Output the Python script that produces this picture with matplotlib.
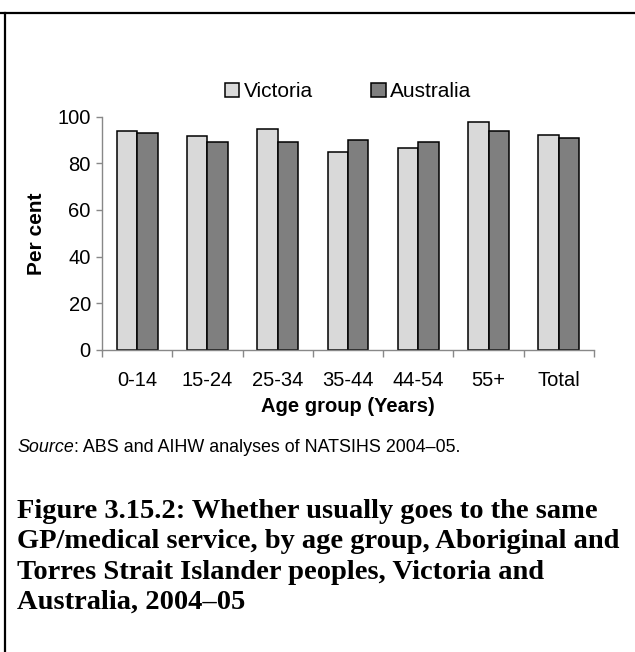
import numpy as np
import matplotlib
matplotlib.use("Agg")
import matplotlib.pyplot as plt
from matplotlib.lines import Line2D

# Data
groups = ["0-14", "15-24", "25-34", "35-44", "44-54", "55+", "Total"]
victoria = [94, 91.5, 94.5, 85, 86.5, 97.5, 92]
australia = [93, 89, 89, 90, 89, 94, 91]
yticks = [0, 20, 40, 60, 80, 100]

caption = ("Figure 3.15.2: Whether usually goes to the same\n"
           "GP/medical service, by age group, Aboriginal and\n"
           "Torres Strait Islander peoples, Victoria and\n"
           "Australia, 2004\u201305")

plt.rcParams['font.family'] = ['Liberation Sans', 'DejaVu Sans']

fig = plt.figure(figsize=(6.35, 6.52), dpi=100)
ax = fig.add_axes([0.1606, 0.4632, 0.7748, 0.358])

x = np.arange(len(groups))
w = 0.29
ax.bar(x - w/2, victoria, w, color="#d9d9d9", edgecolor="black", linewidth=1.1,
       label="Victoria")
ax.bar(x + w/2, australia, w, color="#7f7f7f", edgecolor="black", linewidth=1.1,
       label="Australia")

ax.set_xlim(-0.5, len(groups) - 0.5)
ax.set_ylim(0, 100)
ax.set_yticks(yticks)
ax.set_xticks(x)
ax.set_xticklabels(groups)
ax.set_xticks(np.arange(len(groups) + 1) - 0.5, minor=True)
ax.tick_params(axis="x", which="major", length=0, labelsize=14.5, pad=15)
ax.tick_params(axis="x", which="minor", length=5, width=1, color="#888888")
ax.tick_params(axis="y", length=4, width=1, color="#888888", labelsize=14.5, pad=4)

for s in ["top", "right"]:
    ax.spines[s].set_visible(False)
for s in ["left", "bottom"]:
    ax.spines[s].set_color("#888888")
    ax.spines[s].set_linewidth(1)

ax.set_ylabel("Per cent", fontsize=15, fontweight="bold", labelpad=8)
ax.set_xlabel("Age group (Years)", fontsize=14.5, fontweight="bold", labelpad=5)

ax.legend(loc="lower center", bbox_to_anchor=(0.5, 0.985), ncol=2, frameon=False,
          fontsize=15, handlelength=0.7, handleheight=0.7, handletextpad=0.2,
          columnspacing=2.8)

# Source line: italic "Source" followed by the plain rest
src = fig.text(0.027, 1 - 448/652, "Source", fontsize=12.9, style="italic", va="center")
ax.annotate(": ABS and AIHW analyses of NATSIHS 2004\u201305.", xy=(1, 0.5),
            xycoords=src, va="center", ha="left", fontsize=12.9,
            annotation_clip=False)

# Caption
fig.text(0.027, 1 - 499/652, caption, fontsize=20.5, fontweight="bold",
         family=["Liberation Serif", "DejaVu Serif"], va="top", linespacing=1.28)

# Page frame lines
fig.add_artist(Line2D([0, 1], [1 - 13/652, 1 - 13/652], color="black", linewidth=1.6,
                      transform=fig.transFigure))
fig.add_artist(Line2D([5/635, 5/635], [0, 1 - 13/652], color="black", linewidth=1.6,
                      transform=fig.transFigure))

fig.savefig("out.png", dpi=100)
